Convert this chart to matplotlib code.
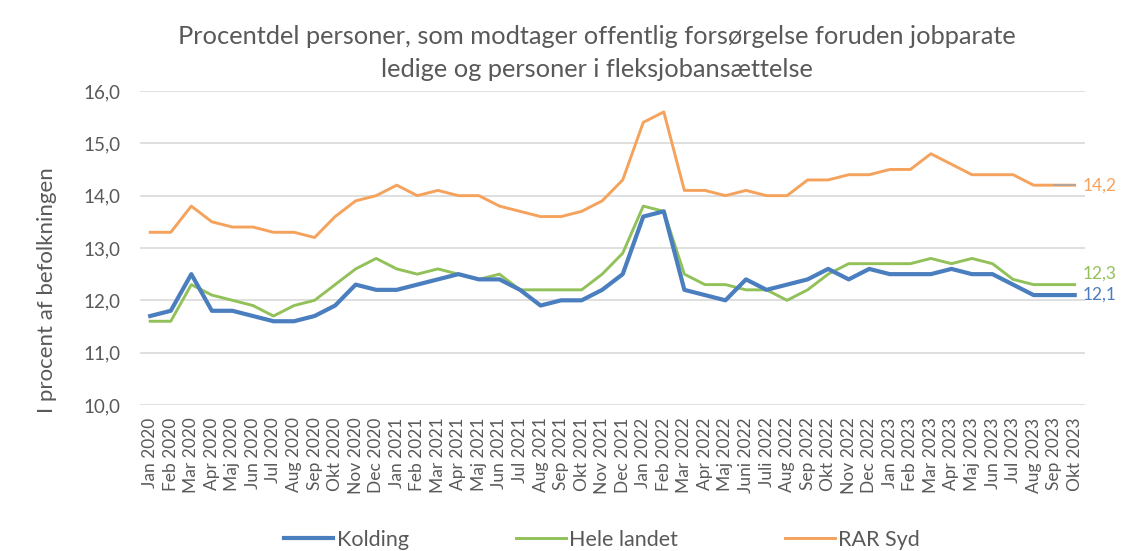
import matplotlib
matplotlib.use("Agg")
import matplotlib.pyplot as plt
from matplotlib.lines import Line2D

plt.rcParams['font.family'] = ['Lato', 'DejaVu Sans']

months = ["Jan 2020", "Feb 2020", "Mar 2020", "Apr 2020", "Maj 2020", "Jun 2020", "Jul 2020",
          "Aug 2020", "Sep 2020", "Okt 2020", "Nov 2020", "Dec 2020",
          "Jan 2021", "Feb 2021", "Mar 2021", "Apr 2021", "Maj 2021", "Jun 2021", "Jul 2021",
          "Aug 2021", "Sep 2021", "Okt 2021", "Nov 2021", "Dec 2021",
          "Jan 2022", "Feb 2022", "Mar 2022", "Apr 2022", "Maj 2022", "Juni 2022", "Juli 2022",
          "Aug 2022", "Sep 2022", "Okt 2022", "Nov 2022", "Dec 2022",
          "Jan 2023", "Feb 2023", "Mar 2023", "Apr 2023", "Maj 2023", "Jun 2023", "Jul 2023",
          "Aug 2023", "Sep 2023", "Okt 2023"]

kolding = [11.7, 11.8, 12.5, 11.8, 11.8, 11.7, 11.6, 11.6, 11.7, 11.9, 12.3, 12.2,
           12.2, 12.3, 12.4, 12.5, 12.4, 12.4, 12.2, 11.9, 12.0, 12.0, 12.2, 12.5,
           13.6, 13.7, 12.2, 12.1, 12.0, 12.4, 12.2, 12.3, 12.4, 12.6, 12.4, 12.6,
           12.5, 12.5, 12.5, 12.6, 12.5, 12.5, 12.3, 12.1, 12.1, 12.1]

hele_landet = [11.6, 11.6, 12.3, 12.1, 12.0, 11.9, 11.7, 11.9, 12.0, 12.3, 12.6, 12.8,
               12.6, 12.5, 12.6, 12.5, 12.4, 12.5, 12.2, 12.2, 12.2, 12.2, 12.5, 12.9,
               13.8, 13.7, 12.5, 12.3, 12.3, 12.2, 12.2, 12.0, 12.2, 12.5, 12.7, 12.7,
               12.7, 12.7, 12.8, 12.7, 12.8, 12.7, 12.4, 12.3, 12.3, 12.3]

rar_syd = [13.3, 13.3, 13.8, 13.5, 13.4, 13.4, 13.3, 13.3, 13.2, 13.6, 13.9, 14.0,
           14.2, 14.0, 14.1, 14.0, 14.0, 13.8, 13.7, 13.6, 13.6, 13.7, 13.9, 14.3,
           15.4, 15.6, 14.1, 14.1, 14.0, 14.1, 14.0, 14.0, 14.3, 14.3, 14.4, 14.4,
           14.5, 14.5, 14.8, 14.6, 14.4, 14.4, 14.4, 14.2, 14.2, 14.2]

yticks = [10, 11, 12, 13, 14, 15, 16]

c_blue = '#4a7ebf'
c_green = '#92c15a'
c_orange = '#f5a25d'
c_text = '#595959'

fig = plt.figure(figsize=(11.25, 5.51), dpi=100)
ax = fig.add_axes([0.1244, 0.265, 0.84, 0.5699])

x = list(range(len(months)))
ax.plot(x, rar_syd, color=c_orange, lw=2.1, solid_joinstyle='round', zorder=3)
ax.plot(x[-2:], rar_syd[-2:], color='#a6a6a6', lw=1.2, zorder=4)
ax.plot(x, hele_landet, color=c_green, lw=2.1, solid_joinstyle='round', zorder=4)
ax.plot(x, kolding, color=c_blue, lw=3.0, solid_joinstyle='round', zorder=5)

ax.set_xlim(-0.5, len(months) - 0.5)
ax.set_ylim(10, 16)
ax.set_yticks(yticks)
ax.set_yticklabels([f"{v:.1f}".replace('.', ',') for v in yticks], fontsize=13.5, color=c_text)
ax.set_xticks(x)
ax.set_xticklabels(months, rotation=90, fontsize=12.5, color=c_text)
ax.tick_params(axis='y', length=0, pad=14)
ax.tick_params(axis='x', length=0, pad=9)
ax.grid(axis='y', color='#d9d9d9', lw=1.2)
ax.set_axisbelow(True)
for s in ax.spines.values():
    s.set_visible(False)

fig.text(47 / 1125, 1 - 290 / 551, "I procent af befolkningen", rotation=90,
         ha='center', va='center', fontsize=16, color=c_text)

# end labels
for vals, col, dy in [(rar_syd, c_orange, 0), (hele_landet, c_green, 8), (kolding, c_blue, 0)]:
    ax.annotate(f"{vals[-1]:.1f}".replace('.', ','), xy=(x[-1], vals[-1]),
                xytext=(6, dy), textcoords='offset points', va='center', ha='left',
                fontsize=12.5, color=col, annotation_clip=False)

fig.text(0.531, 0.933, "Procentdel personer, som modtager offentlig forsørgelse foruden jobparate",
         ha='center', va='center', fontsize=18.3, color=c_text)
fig.text(0.531, 0.873, "ledige og personer i fleksjobansættelse",
         ha='center', va='center', fontsize=18.3, color=c_text)

handles = [Line2D([], [], color=c_blue, lw=3.0),
           Line2D([], [], color=c_green, lw=2.1),
           Line2D([], [], color=c_orange, lw=2.1)]
leg = fig.legend(handles, ["Kolding", "Hele landet", "RAR Syd"], loc='center',
                 bbox_to_anchor=(0.535, 0.02), ncol=3, frameon=False, fontsize=15.5,
                 handlelength=2.3, columnspacing=5.0, handletextpad=0.15)
for t in leg.get_texts():
    t.set_color(c_text)

fig.savefig("out.png", dpi=100)
